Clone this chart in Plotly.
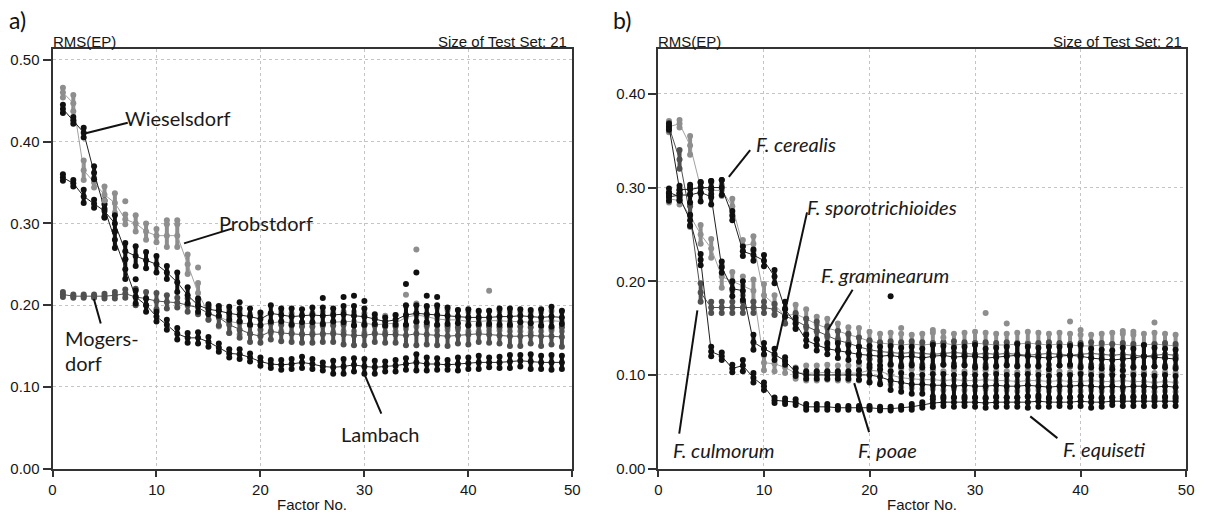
import plotly.graph_objects as go

FACTORS = list(range(1, 50))

# ---------------- panel a ----------------
A_STEEP = [0.440,0.426,0.411,0.362,0.318,0.280,0.244,0.210,0.200,0.186,0.176,0.165,0.160,0.160,0.155,0.148,0.141,0.140,0.136,0.131,
           0.128,0.127,0.128,0.130,0.128,0.125,0.124,0.125,0.127,0.125,0.124,0.125,0.126,0.128,0.130,0.128,0.128,0.127,0.128,0.129,
           0.130,0.130,0.130,0.131,0.132,0.131,0.130,0.130,0.130]
A_STEEP_SD = [0.005,0.004,0.006,0.008,0.010,0.010,0.012,0.008,0.008,0.006,0.006,0.007,0.006,0.007,0.006,0.005,0.005,0.006,0.005,0.005,
              0.005,0.006,0.006,0.007,0.006,0.005,0.008,0.009,0.008,0.009,0.008,0.006,0.007,0.007,0.010,0.008,0.007,0.006,0.008,0.007,
              0.008,0.006,0.007,0.008,0.007,0.009,0.008,0.009,0.008]
A_SLOW = [0.356,0.349,0.333,0.324,0.315,0.300,0.266,0.260,0.255,0.250,0.240,0.228,0.212,0.200,0.195,0.193,0.190,0.188,0.186,0.183,
          0.190,0.188,0.186,0.187,0.188,0.187,0.188,0.189,0.187,0.186,0.183,0.180,0.182,0.188,0.190,0.189,0.188,0.187,0.186,0.185,
          0.185,0.185,0.186,0.186,0.187,0.186,0.185,0.186,0.185]
A_SLOW_SD = [0.004,0.004,0.008,0.005,0.008,0.010,0.010,0.012,0.010,0.010,0.008,0.012,0.010,0.008,0.006,0.006,0.008,0.008,0.010,0.008,
             0.010,0.008,0.010,0.008,0.009,0.010,0.008,0.010,0.012,0.010,0.006,0.005,0.006,0.012,0.010,0.010,0.012,0.010,0.008,0.010,
             0.008,0.008,0.010,0.010,0.008,0.008,0.010,0.012,0.008]
A_GRAY = [0.460,0.447,0.365,0.350,0.335,0.325,0.305,0.300,0.290,0.285,0.285,0.285,0.250,0.215,0.190,0.186,0.180,0.178,0.177,0.176,
          0.178,0.180,0.178,0.177,0.178,0.178,0.179,0.180,0.180,0.178,0.176,0.177,0.178,0.185,0.188,0.186,0.183,0.182,0.182,0.180,
          0.180,0.181,0.181,0.180,0.180,0.179,0.180,0.181,0.180]
A_GRAY_SD = [0.006,0.010,0.012,0.006,0.010,0.012,0.006,0.010,0.010,0.008,0.014,0.014,0.012,0.012,0.008,0.012,0.014,0.014,0.012,0.012,
             0.012,0.012,0.012,0.012,0.012,0.014,0.012,0.012,0.012,0.012,0.010,0.010,0.010,0.014,0.014,0.012,0.014,0.012,0.012,0.012,
             0.012,0.012,0.012,0.012,0.012,0.012,0.012,0.012,0.012]
A_DARK = [0.213,0.211,0.211,0.211,0.211,0.212,0.214,0.210,0.208,0.205,0.204,0.203,0.200,0.197,0.190,0.185,0.176,0.170,0.165,0.162,
          0.168,0.166,0.165,0.164,0.164,0.165,0.165,0.164,0.163,0.163,0.165,0.164,0.164,0.163,0.165,0.164,0.163,0.162,0.163,0.164,
          0.165,0.164,0.163,0.162,0.162,0.163,0.162,0.162,0.161]
A_DARK_SD = [0.003,0.002,0.002,0.002,0.003,0.004,0.005,0.010,0.008,0.010,0.008,0.006,0.008,0.008,0.008,0.010,0.010,0.010,0.010,0.008,
             0.010,0.010,0.010,0.010,0.010,0.010,0.010,0.012,0.012,0.012,0.010,0.010,0.010,0.012,0.014,0.012,0.012,0.012,0.010,0.012,
             0.010,0.010,0.010,0.012,0.012,0.010,0.012,0.010,0.012]
A_OUT_BLACK_X = [35, 34, 36, 37, 26, 28, 29, 30, 18, 8]
A_OUT_BLACK_Y = [0.240, 0.226, 0.2115, 0.210, 0.2087, 0.210, 0.2115, 0.205, 0.2035, 0.2316]
A_OUT_GRAY_X = [35, 34, 42, 5, 7, 11, 12, 14]
A_OUT_GRAY_Y = [0.268, 0.2127, 0.2175, 0.328, 0.327, 0.3037, 0.3037, 0.246]

# ---------------- panel b ----------------
B_CER = [0.365,0.298,0.298,0.300,0.300,0.300,0.270,0.232,0.228,0.222,0.205,0.170,0.155,0.137,0.132,0.128,0.126,0.124,0.122,0.121,
         0.120,0.121,0.119,0.120,0.118,0.120,0.121,0.119,0.120,0.120,0.118,0.119,0.120,0.121,0.120,0.119,0.118,0.120,0.121,0.120,
         0.118,0.117,0.116,0.117,0.118,0.120,0.119,0.118,0.117]
B_CER_SD = [0.003,0.004,0.005,0.006,0.007,0.008,0.005,0.005,0.006,0.006,0.007,0.008,0.006,0.006,0.006,0.006,0.008,0.008,0.008,0.010,
            0.010,0.010,0.010,0.010,0.010,0.012,0.010,0.010,0.010,0.012,0.010,0.010,0.010,0.012,0.010,0.010,0.012,0.010,0.010,0.012,
            0.010,0.010,0.010,0.012,0.010,0.012,0.010,0.010,0.010]
B_GRA = [0.365,0.368,0.345,0.300,0.297,0.297,0.280,0.238,0.240,0.185,0.175,0.163,0.165,0.160,0.154,0.150,0.147,0.143,0.140,0.136,
         0.134,0.133,0.132,0.133,0.132,0.133,0.134,0.132,0.133,0.134,0.133,0.132,0.132,0.133,0.134,0.133,0.132,0.133,0.132,0.131,
         0.131,0.132,0.133,0.132,0.131,0.132,0.133,0.132,0.131]
B_GRA_SD = [0.006,0.004,0.010,0.006,0.008,0.006,0.008,0.006,0.008,0.012,0.010,0.008,0.010,0.010,0.008,0.010,0.008,0.008,0.010,0.010,
            0.010,0.012,0.012,0.010,0.012,0.012,0.012,0.012,0.012,0.012,0.012,0.012,0.012,0.012,0.012,0.012,0.012,0.012,0.012,0.012,
            0.012,0.012,0.012,0.012,0.012,0.012,0.012,0.012,0.012]
B_CUL = [0.365,0.330,0.270,0.188,0.172,0.172,0.172,0.172,0.172,0.172,0.170,0.163,0.158,0.152,0.147,0.142,0.137,0.134,0.130,0.127,
         0.125,0.124,0.123,0.124,0.123,0.122,0.123,0.124,0.123,0.122,0.123,0.122,0.123,0.122,0.121,0.122,0.123,0.122,0.121,0.122,
         0.123,0.122,0.121,0.122,0.121,0.120,0.121,0.122,0.121]
B_CUL_SD = [0.004,0.010,0.010,0.010,0.006,0.006,0.006,0.006,0.006,0.006,0.006,0.008,0.008,0.008,0.010,0.010,0.010,0.010,0.010,0.010,
            0.010,0.012,0.012,0.012,0.012,0.012,0.012,0.012,0.012,0.012,0.012,0.012,0.012,0.012,0.012,0.012,0.012,0.012,0.012,0.012,
            0.012,0.012,0.012,0.012,0.012,0.012,0.012,0.012,0.012]
B_SPO = [0.290,0.292,0.292,0.295,0.290,0.215,0.192,0.190,0.135,0.128,0.122,0.115,0.103,0.100,0.100,0.100,0.100,0.100,0.100,0.100,
         0.098,0.094,0.092,0.090,0.090,0.089,0.089,0.088,0.089,0.088,0.088,0.089,0.088,0.088,0.089,0.088,0.087,0.088,0.088,0.089,
         0.088,0.087,0.088,0.087,0.088,0.088,0.087,0.088,0.087]
B_SPO_SD = [0.004,0.005,0.008,0.010,0.008,0.006,0.008,0.010,0.008,0.006,0.006,0.004,0.004,0.004,0.004,0.004,0.004,0.004,0.005,0.008,
            0.008,0.010,0.010,0.010,0.010,0.012,0.012,0.012,0.012,0.012,0.012,0.012,0.012,0.012,0.012,0.012,0.012,0.012,0.012,0.012,
            0.012,0.012,0.012,0.012,0.012,0.012,0.012,0.012,0.012]
B_POA = [0.288,0.286,0.270,0.250,0.235,0.205,0.200,0.195,0.190,0.113,0.112,0.108,0.102,0.102,0.102,0.103,0.102,0.102,0.102,0.105,
         0.104,0.100,0.097,0.096,0.095,0.095,0.094,0.095,0.094,0.094,0.095,0.094,0.094,0.093,0.094,0.094,0.093,0.094,0.093,0.093,
         0.094,0.093,0.093,0.094,0.093,0.093,0.092,0.093,0.092]
B_POA_SD = [0.004,0.004,0.012,0.010,0.010,0.012,0.010,0.010,0.012,0.008,0.008,0.006,0.006,0.008,0.008,0.008,0.008,0.008,0.008,0.012,
            0.012,0.010,0.010,0.010,0.010,0.010,0.010,0.010,0.010,0.010,0.010,0.010,0.010,0.010,0.010,0.010,0.010,0.010,0.010,0.010,
            0.010,0.010,0.010,0.010,0.010,0.010,0.010,0.010,0.010]
B_EQU = [0.295,0.290,0.265,0.223,0.125,0.120,0.107,0.110,0.097,0.088,0.073,0.072,0.071,0.066,0.066,0.066,0.065,0.065,0.065,0.065,
         0.064,0.064,0.065,0.066,0.068,0.070,0.071,0.071,0.071,0.071,0.070,0.071,0.071,0.071,0.071,0.072,0.071,0.071,0.071,0.072,
         0.071,0.071,0.072,0.072,0.072,0.072,0.072,0.072,0.072]
B_EQU_SD = [0.004,0.004,0.006,0.006,0.005,0.004,0.004,0.006,0.005,0.004,0.003,0.003,0.003,0.003,0.003,0.003,0.002,0.002,0.002,0.002,
            0.002,0.002,0.002,0.003,0.003,0.004,0.004,0.005,0.004,0.005,0.005,0.005,0.005,0.005,0.006,0.006,0.005,0.004,0.005,0.005,
            0.006,0.005,0.004,0.005,0.005,0.005,0.005,0.005,0.005]
B_OUT_BLACK_X = [22, 5, 6]
B_OUT_BLACK_Y = [0.184, 0.307, 0.308]
B_OUT_GRAY_X = [23, 26, 27, 31, 33, 39, 40, 44, 45, 47]
B_OUT_GRAY_Y = [0.150, 0.148, 0.140, 0.166, 0.155, 0.157, 0.148, 0.147, 0.146, 0.156]

BLACK = "#101010"
GRAY = "#8e8e8e"
DARK = "#505050"

fig = go.Figure()


def add_series(mean, sd, color, linecolor, xa, ya):
    up = [m + s for m, s in zip(mean, sd)]
    lo = [m - s for m, s in zip(mean, sd)]
    fig.add_trace(go.Scatter(x=FACTORS, y=mean, mode="lines+markers", xaxis=xa, yaxis=ya,
                             line=dict(color=linecolor, width=1),
                             marker=dict(size=6, color=color),
                             error_y=dict(type="data", array=sd, visible=True, color=color,
                                          thickness=4, width=0),
                             showlegend=False, hoverinfo="skip"))
    for arr in (up, lo):
        fig.add_trace(go.Scatter(x=FACTORS, y=arr, mode="markers", xaxis=xa, yaxis=ya,
                                 marker=dict(size=6, color=color),
                                 showlegend=False, hoverinfo="skip"))


def add_points(xs, ys, color, xa, ya):
    fig.add_trace(go.Scatter(x=xs, y=ys, mode="markers", xaxis=xa, yaxis=ya,
                             marker=dict(size=6, color=color),
                             showlegend=False, hoverinfo="skip"))


# panel a
add_series(A_GRAY, A_GRAY_SD, GRAY, "#a0a0a0", "x", "y")
add_series(A_DARK, A_DARK_SD, DARK, "#505050", "x", "y")
add_series(A_SLOW, A_SLOW_SD, BLACK, "#202020", "x", "y")
add_series(A_STEEP, A_STEEP_SD, BLACK, "#202020", "x", "y")
add_points(A_OUT_GRAY_X, A_OUT_GRAY_Y, GRAY, "x", "y")
add_points(A_OUT_BLACK_X, A_OUT_BLACK_Y, BLACK, "x", "y")

# panel b
add_series(B_GRA, B_GRA_SD, GRAY, "#a0a0a0", "x2", "y2")
add_series(B_POA, B_POA_SD, GRAY, "#a0a0a0", "x2", "y2")
add_series(B_CUL, B_CUL_SD, DARK, "#505050", "x2", "y2")
add_series(B_SPO, B_SPO_SD, BLACK, "#202020", "x2", "y2")
add_series(B_CER, B_CER_SD, BLACK, "#202020", "x2", "y2")
add_series(B_EQU, B_EQU_SD, BLACK, "#202020", "x2", "y2")
add_points(B_OUT_GRAY_X, B_OUT_GRAY_Y, GRAY, "x2", "y2")
add_points(B_OUT_BLACK_X, B_OUT_BLACK_Y, BLACK, "x2", "y2")

W, H = 1208, 520
TICKFONT = dict(family="Liberation Sans", size=15, color="#161616")
Y0, Y1 = (H - 476) / H, (H - 50) / H


def xaxis(domain):
    return dict(domain=domain, range=[0, 50], tickvals=[0, 10, 20, 30, 40, 50], ticks="outside",
                ticklen=6, tickwidth=1.5, tickcolor="#333", showline=True, mirror=True,
                linecolor="#333", linewidth=2, showgrid=True, gridcolor="#c4c4c4",
                griddash="dot", gridwidth=1, zeroline=False, tickfont=TICKFONT, fixedrange=True)


def yaxis(domain, top, anchor):
    return dict(domain=domain, range=[0, top], tickvals=[0, 0.1, 0.2, 0.3, 0.4, 0.5],
                tickformat=".2f", ticks="outside", ticklen=8, tickwidth=1.5, tickcolor="#333",
                showline=True, mirror=True, linecolor="#333", linewidth=2, showgrid=True,
                gridcolor="#c4c4c4", griddash="dot", gridwidth=1, zeroline=False,
                tickfont=TICKFONT, anchor=anchor, fixedrange=True)


fig.update_layout(
    width=W, height=H, margin=dict(l=0, r=0, t=0, b=0),
    paper_bgcolor="white", plot_bgcolor="white",
    xaxis=xaxis([49 / W, 574 / W]),
    yaxis=yaxis([Y0, Y1], 0.513, "x"),
    xaxis2=dict(xaxis([661 / W, 1194 / W]), anchor="y2"),
    yaxis2=yaxis([Y0, Y1], 0.4476, "x2"),
)
fig.layout.xaxis.anchor = "y"

LABEL = dict(family="Lato", size=20, color="#1a1a1a")
LABEL_I = dict(family="Lato", size=20, color="#1a1a1a", style="italic")
HEAD = dict(family="Liberation Sans", size=15, color="#161616")

anns = []


def paper_text(text, px, py, font, xanchor="left"):
    anns.append(dict(text=text, x=px / W, y=1 - py / H, xref="paper", yref="paper",
                     xanchor=xanchor, yanchor="middle", showarrow=False, font=font))


paper_text("a)", 3, 20, dict(family="Lato", size=23, color="#111"))
paper_text("b)", 613, 20, dict(family="Lato", size=23, color="#111"))
paper_text("RMS(EP)", 47, 42, HEAD)
paper_text("Size of Test Set: 21", 571, 42, HEAD, "right")
paper_text("RMS(EP)", 659, 42, HEAD)
paper_text("Size of Test Set: 21", 1192, 42, HEAD, "right")
paper_text("Factor No.", 311, 512, HEAD, "center")
paper_text("Factor No.", 927, 512, HEAD, "center")


def data_text(text, x, y, xa, ya, font):
    anns.append(dict(text=text, x=x, y=y, xref=xa, yref=ya, xanchor="left", yanchor="middle",
                     showarrow=False, font=font))


data_text("Wieselsdorf", 6.77, 0.4295, "x", "y", LABEL)
data_text("Probstdorf", 15.83, 0.301, "x", "y", LABEL)
data_text("Mogers-", 1.05, 0.1593, "x", "y", LABEL)
data_text("dorf", 1.05, 0.1292, "x", "y", LABEL)
data_text("Lambach", 27.56, 0.0419, "x", "y", LABEL)
data_text("F. cerealis", 9.01, 0.3470, "x2", "y2", LABEL_I)
data_text("F. sporotrichioides", 13.86, 0.2795, "x2", "y2", LABEL_I)
data_text("F. graminearum", 15.24, 0.2063, "x2", "y2", LABEL_I)
data_text("F. culmorum", 1.15, 0.0200, "x2", "y2", LABEL_I)
data_text("F. poae", 18.71, 0.0200, "x2", "y2", LABEL_I)
data_text("F. equiseti", 38.11, 0.0210, "x2", "y2", LABEL_I)

fig.update_layout(annotations=anns)

LEADERS = [
    ("x", "y", 3.11, 0.410, 7.24, 0.423),
    ("x", "y", 12.65, 0.2756, 17.26, 0.2936),
    ("x", "y", 3.98, 0.2076, 4.64, 0.1775),
    ("x", "y", 30.07, 0.1134, 31.63, 0.0673),
    ("x2", "y2", 6.67, 0.3115, 8.69, 0.340),
    ("x2", "y2", 11.2, 0.1277, 14.08, 0.2735),
    ("x2", "y2", 16.05, 0.148, 18.4, 0.191),
    ("x2", "y2", 1.97, 0.0374, 3.69, 0.169),
    ("x2", "y2", 18.55, 0.0913, 19.96, 0.039),
    ("x2", "y2", 35.23, 0.0558, 37.8, 0.0326),
]
shapes = []
for xa, ya, x0, y0, x1, y1 in LEADERS:
    shapes.append(dict(type="line", xref=xa, yref=ya, x0=x0, y0=y0, x1=x1, y1=y1,
                       line=dict(color="#111", width=2)))
fig.update_layout(shapes=shapes)

fig.write_html("out.html")
